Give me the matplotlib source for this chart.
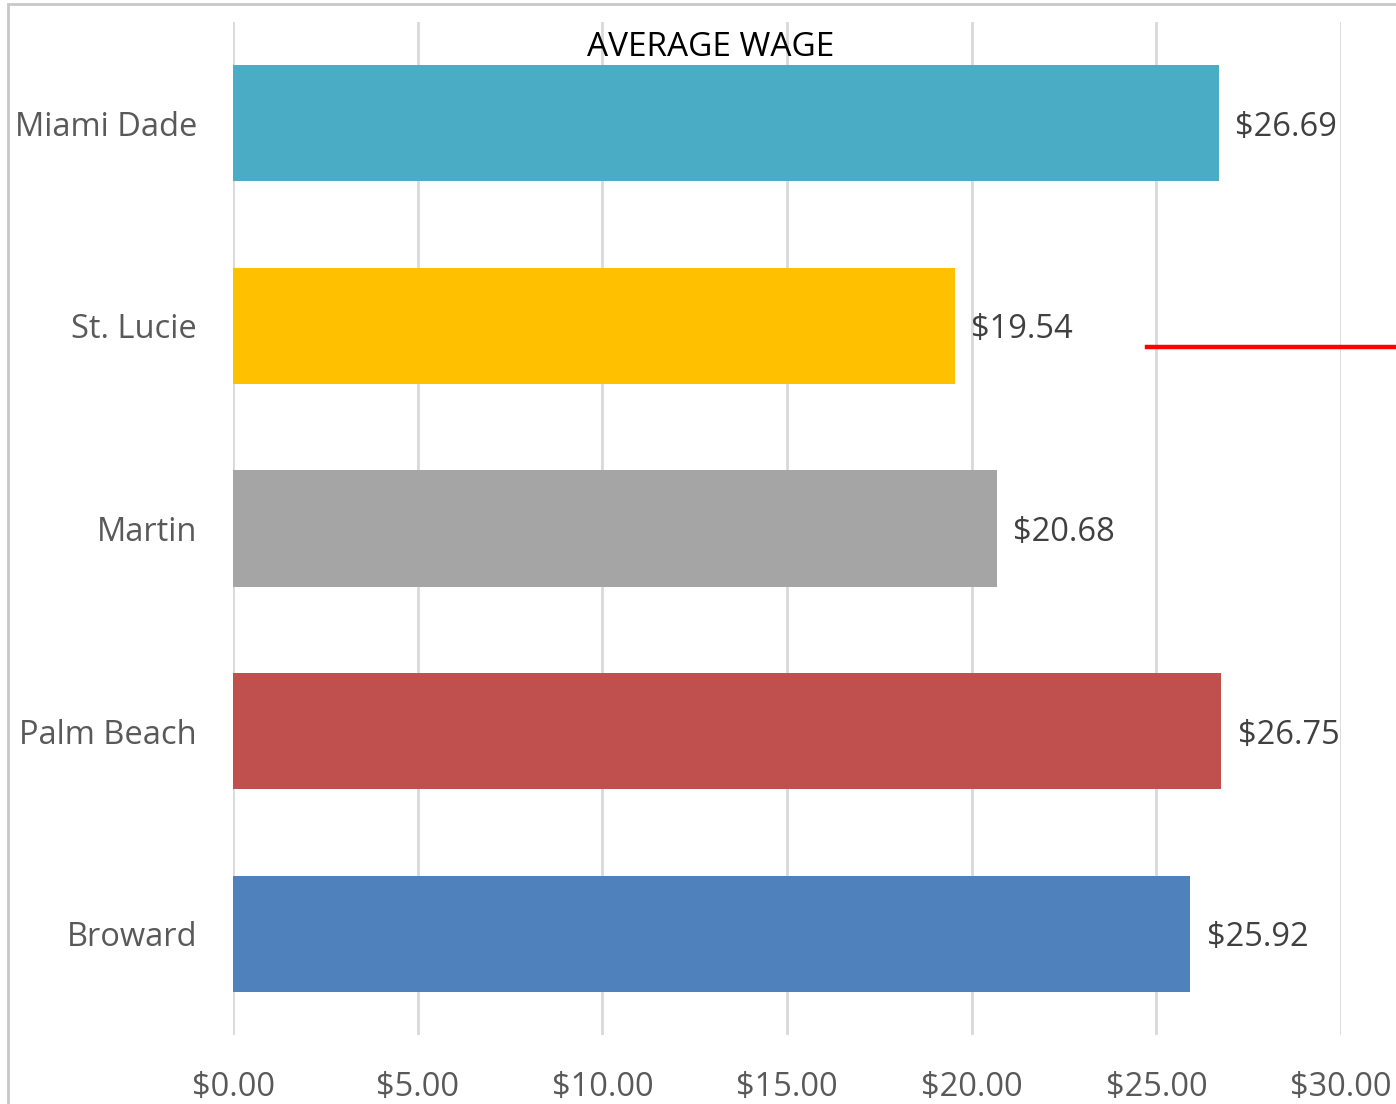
import matplotlib
matplotlib.use("Agg")
import matplotlib.pyplot as plt
from matplotlib.patches import Rectangle
from matplotlib.lines import Line2D

categories = ["Broward", "Palm Beach", "Martin", "St. Lucie", "Miami Dade"]
values = [25.92, 26.75, 20.68, 19.54, 26.69]
colors = ["#4F81BD", "#C0504D", "#A5A5A5", "#FFC000", "#4BACC6"]
xticks = [0, 5, 10, 15, 20, 25, 30]
xtick_labels = ["$0.00", "$5.00", "$10.00", "$15.00", "$20.00", "$25.00", "$30.00"]
title = "AVERAGE WAGE"

W, H = 1396, 1104
plt.rcParams['font.family'] = ['Open Sans', 'DejaVu Sans']
fig = plt.figure(figsize=(W / 100, H / 100), dpi=100)
ax = fig.add_axes([233 / W, 1 - 1035 / H, (1341 - 233) / W, (1035 - 22) / H])

ypos = list(range(len(categories)))
ax.barh(ypos, values, height=0.573, color=colors, zorder=3)
ax.set_xlim(0, 30)
ax.set_ylim(-0.5, len(categories) - 0.5)
ax.set_xticks(xticks)
ax.set_xticklabels(xtick_labels)
ax.set_yticks(ypos)
ax.set_yticklabels(categories)
ax.grid(axis="x", color="#d9d9d9", linewidth=2, zorder=0)
for s in ax.spines.values():
    s.set_visible(False)
ax.tick_params(axis="x", length=0, pad=26, labelsize=23.5, labelcolor="#595959")
ax.tick_params(axis="y", length=0, pad=26, labelsize=23.5, labelcolor="#595959")
for lab in ax.get_yticklabels():
    lab.set_verticalalignment("center_baseline")

for y, v in zip(ypos, values):
    ax.text(v + 0.45, y, f"${v:.2f}", va="center_baseline", ha="left", fontsize=23.5, color="#404040")

fig.text(711 / W, 1 - 43 / H, title, ha="center", va="center_baseline", fontsize=24, color="#000000")

# chart-area border
fig.add_artist(Rectangle((8 / W, -0.1), 1.2, 1 - 4 / H + 0.1, transform=fig.transFigure,
                         fill=False, edgecolor="#c8c8c8", linewidth=2))
# stray red line
fig.add_artist(Line2D([1147 / W, 1.0], [1 - 347 / H, 1 - 347 / H], transform=fig.transFigure,
                      color="#ff0000", linewidth=3.2))

fig.savefig("out.png", dpi=100)
